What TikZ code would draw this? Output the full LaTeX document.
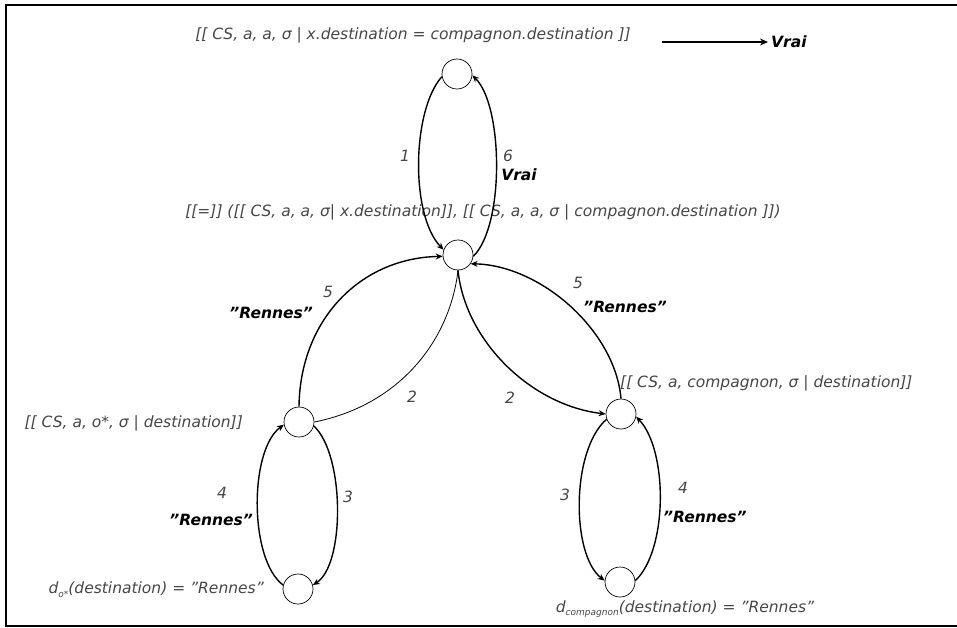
\documentclass[tikz,border=0pt]{standalone}
\usepackage{fontspec}
\setmainfont{DejaVu Sans}
\usetikzlibrary{arrows.meta}
\definecolor{txtgray}{gray}{0.28}
\newcommand\subtxt[1]{\raisebox{-0.45ex}{\fontsize{9}{9}\selectfont #1}}
\tikzset{
  state/.style={circle,draw,line width=0.7pt,minimum size=30pt,inner sep=0pt},
  lbl/.style={font=\fontsize{15.5}{18}\selectfont\itshape,text=txtgray,inner sep=0pt},
  blbl/.style={font=\fontsize{15.5}{18}\selectfont\bfseries\itshape,text=black,inner sep=0pt},
  edgearrow/.style={line width=1.4pt,-{Stealth[length=7pt,width=6pt]}},
  thinedge/.style={line width=0.8pt}
}
\begin{document}
\begin{tikzpicture}[x=1pt,y=-1pt]
\useasboundingbox (0,0) rectangle (957,628);
\fill[white] (0,0) rectangle (957,628);
\draw[line width=2pt] (6,5) rectangle (990,626);

% states
\node[state] (T) at (457,74) {};
\node[state] (M) at (458,255) {};
\node[state] (L) at (299,422) {};
\node[state] (R) at (621,414) {};
\node[state] (BL) at (298,589) {};
\node[state] (BR) at (620,582) {};

% texts
\node[lbl] (ttop) at (413,35) {[[ CS, a, a, σ | x.destination = compagnon.destination ]]};
\node[blbl,anchor=west] (vrai) at (771,42) {Vrai};
\coordinate (astart) at (662,42);
\draw[line width=1.8pt,-{Stealth[length=8pt,width=7pt]},shorten >=3pt] (astart) -- (vrai.west);
\node[lbl] (tmid) at (483,212) {[[=]] ([[ CS, a, a, σ| x.destination]], [[ CS, a, a, σ | compagnon.destination ]])};
\node[lbl,anchor=east] (tL) at (243,423) {[[ CS, a, o*, σ | destination]]};
\node[lbl,anchor=east] (tBL) at (264,590) {d\subtxt{o*}(destination) = ''Rennes''};
\node[lbl,anchor=west] (tR) at (620,383) {[[ CS, a, compagnon, σ | destination]]};
\node[lbl] (tBR) at (685,609) {d\subtxt{compagnon}(destination) = ''Rennes''};

% edges
\draw[edgearrow] (T.190) .. controls (412,110) and (410,215) .. (M.160);
\draw[edgearrow] (M.-5) .. controls (505,225) and (503,105) .. (T.-5);
\draw[edgearrow] (L.90) .. controls (300,320) and (360,258) .. (M.185);
\draw[edgearrow] (R.90) .. controls (615,330) and (540,265) .. (M.-35);
\draw[thinedge] (M.-90) .. controls (450,340) and (400,405) .. (L.0);
\draw[edgearrow] (M.-90) .. controls (465,340) and (530,405) .. (R.180);
\draw[edgearrow] (L.-15) .. controls (345,455) and (345,565) .. (BL.15);
\draw[edgearrow] (BL.165) .. controls (249,560) and (249,450) .. (L.190);
\draw[edgearrow] (R.200) .. controls (571,450) and (571,555) .. (BR.175);
\draw[edgearrow] (BR.5) .. controls (668,550) and (668,450) .. (R.-10);

% edge labels
\node[lbl] (l1) at (405,156) {1};
\node[lbl] (l6) at (508,156) {6};
\node[blbl] (l6v) at (519,175) {Vrai};
\node[lbl] (l5a) at (328,292) {5};
\node[blbl,anchor=east] (l5ar) at (313,313) {''Rennes''};
\node[lbl] (l2a) at (412,397) {2};
\node[lbl] (l2b) at (510,398) {2};
\node[lbl] (l5b) at (578,283) {5};
\node[blbl] (l5br) at (625,307) {''Rennes''};
\node[lbl] (l4a) at (222,493) {4};
\node[blbl,anchor=east] (l4ar) at (253,520) {''Rennes''};
\node[lbl] (l3a) at (348,497) {3};
\node[lbl] (l3b) at (565,495) {3};
\node[lbl] (l4b) at (683,488) {4};
\node[blbl,anchor=west] (l4br) at (663,517) {''Rennes''};
\end{tikzpicture}
\end{document}
